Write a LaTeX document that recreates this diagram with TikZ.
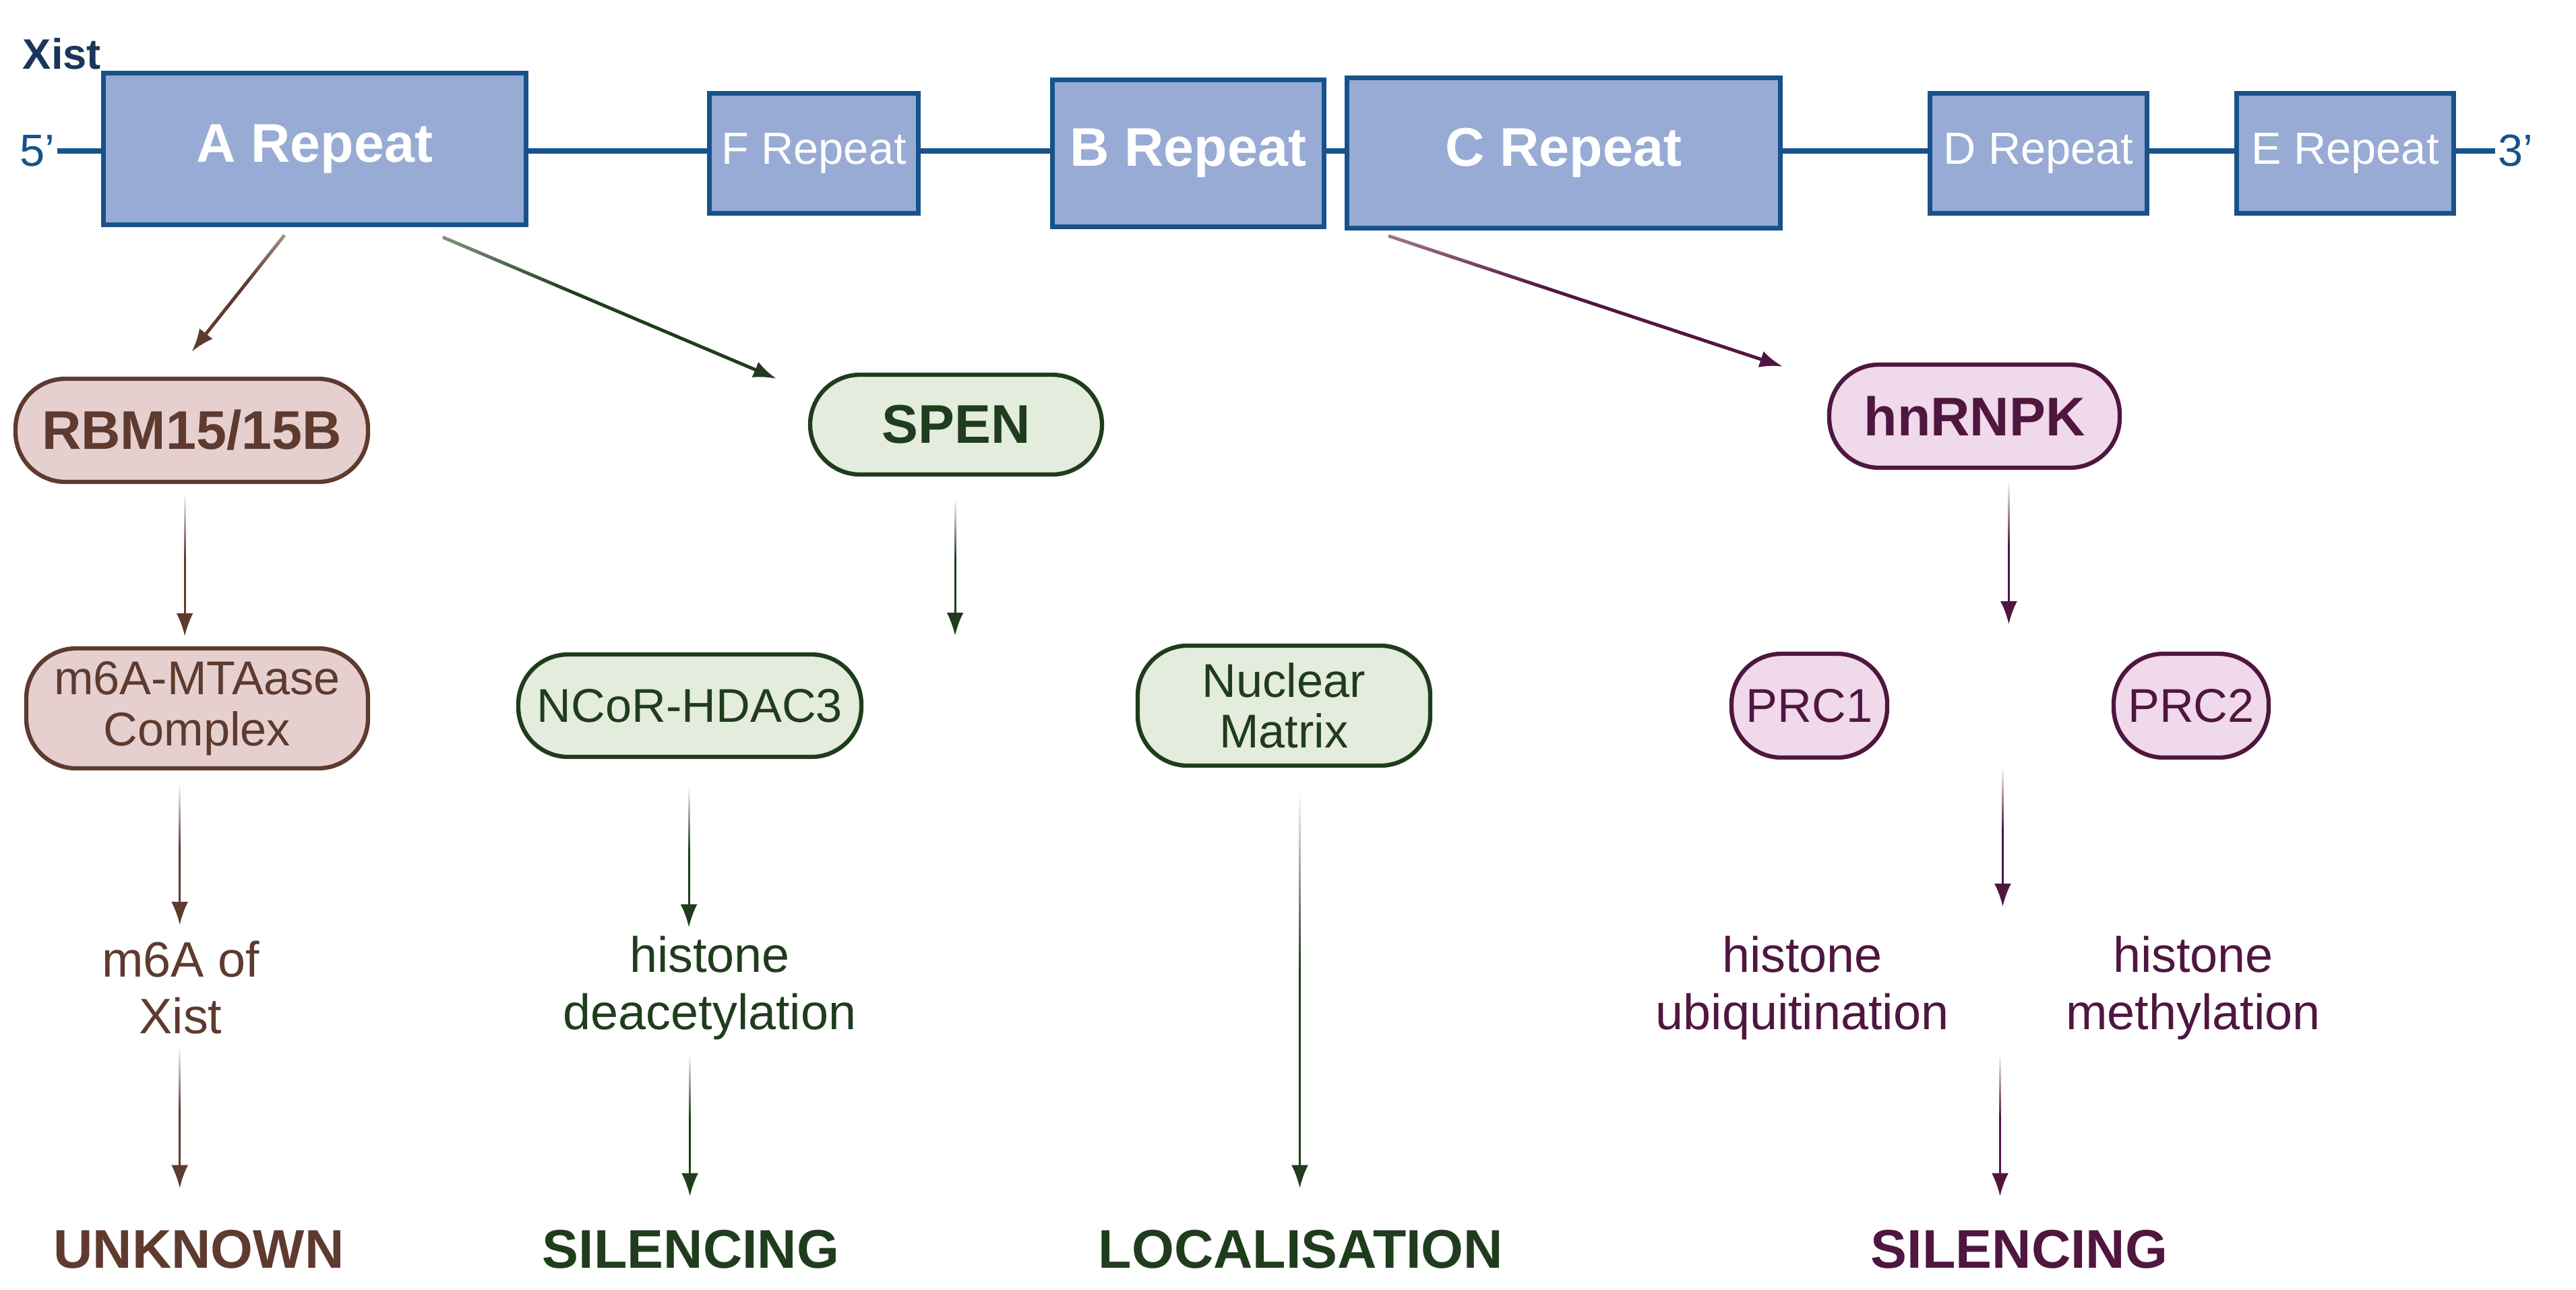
\documentclass[tikz,border=0pt]{standalone}
\usepackage{fontspec}
\setmainfont{Liberation Sans}
\usepackage{tikz}
\usetikzlibrary{
    arrows.meta,
    fadings
}

\definecolor{xnavy}{HTML}{1B365D}
\definecolor{rline}{HTML}{17528B}
\definecolor{rfill}{HTML}{97ABD4}
\definecolor{brn}{HTML}{5E3A2F}
\definecolor{brnfill}{HTML}{E6D0CF}
\definecolor{grn}{HTML}{1F3D1C}
\definecolor{grnfill}{HTML}{E4ECDD}
\definecolor{prp}{HTML}{4F1640}
\definecolor{prpfill}{HTML}{F0D9EA}

\pgfdeclareverticalshading{topfadeshade}{100bp}{color(0bp)=(white); color(55bp)=(white); color(100bp)=(black)}
\pgfdeclarefading{topfade}{\pgfuseshading{topfadeshade}}

\begin{document}
\begin{tikzpicture}[
    rep/.style={draw=rline, fill=rfill, line width=2pt, text=white, inner sep=0pt},
    bigrep/.style={rep, font=\fontsize{23}{27}\selectfont\bfseries},
    smallrep/.style={rep, font=\fontsize{19}{23}\selectfont},
    pill/.style={rounded corners=0.74cm, line width=1.8pt, inner sep=0pt, align=center},
    bpill/.style={pill, font=\fontsize{23}{27}\selectfont\bfseries},
    npill/.style={pill, font=\fontsize{20}{21.5}\selectfont},
    brnbox/.style={draw=brn, fill=brnfill, text=brn},
    grnbox/.style={draw=grn, fill=grnfill, text=grn},
    prpbox/.style={draw=prp, fill=prpfill, text=prp},
    effect/.style={font=\fontsize{21}{24}\selectfont, align=center, inner sep=0pt},
    outcome/.style={font=\fontsize{23}{27}\selectfont\bfseries, inner sep=0pt},
    arr/.style={-{Latex[length=0.34cm,width=0.25cm]}, line width=0.9pt},
    darr/.style={arr, line width=1.4pt, path fading=topfade},
    vfade/.style 2 args={path fading=topfade, fit fading=false,
        fading transform={yshift=#1, yscale=#2, xscale=30}}
]
\useasboundingbox (0,0) rectangle (38.22,-19.14);

% Xist backbone
\node[font=\fontsize{18}{20}\selectfont\bfseries, text=xnavy, inner sep=0pt] (xist) at (0.92,-0.80) {Xist};
\node[font=\fontsize{19}{21}\selectfont, text=rline, inner sep=1pt] (five) at (0.55,-2.24) {5'};
\node[font=\fontsize{19}{21}\selectfont, text=rline, inner sep=1pt] (three) at (37.32,-2.24) {3'};
\draw[rline, line width=2.3pt] (five.east) -- (three.west);

\node[bigrep, minimum width=6.27cm, minimum height=2.25cm] (arep) at (4.67,-2.21) {A Repeat};
\node[smallrep, minimum width=3.10cm, minimum height=1.78cm] (frep) at (12.075,-2.275) {F Repeat};
\node[bigrep, minimum width=4.03cm, minimum height=2.18cm] (brep) at (17.63,-2.275) {B Repeat};
\node[bigrep, minimum width=6.43cm, minimum height=2.23cm] (crep) at (23.20,-2.27) {C Repeat};
\node[smallrep, minimum width=3.22cm, minimum height=1.78cm] (drep) at (30.245,-2.275) {D Repeat};
\node[smallrep, minimum width=3.22cm, minimum height=1.78cm] (erep) at (34.795,-2.275) {E Repeat};

% binding partners
\node[bpill, brnbox, minimum width=5.23cm, minimum height=1.53cm] (rbm) at (2.845,-6.385) {RBM15/15B};
\node[bpill, grnbox, minimum width=4.33cm, minimum height=1.48cm] (spen) at (14.185,-6.30) {SPEN};
\node[bpill, prpbox, minimum width=4.31cm, minimum height=1.53cm] (hnrnpk) at (29.295,-6.175) {hnRNPK};

\node[npill, brnbox, minimum width=5.07cm, minimum height=1.78cm] (mta) at (2.925,-10.51) {m6A-MTAase\\Complex};
\node[npill, grnbox, minimum width=5.09cm, minimum height=1.52cm] (ncor) at (10.235,-10.47) {NCoR-HDAC3};
\node[npill, grnbox, minimum width=4.34cm, minimum height=1.78cm] (nm) at (19.05,-10.47) {Nuclear\\Matrix};
\node[npill, prpbox, minimum width=2.31cm, minimum height=1.54cm] (prc1) at (26.845,-10.47) {PRC1};
\node[npill, prpbox, minimum width=2.30cm, minimum height=1.54cm] (prc2) at (32.51,-10.47) {PRC2};

% effects
\node[effect, text=brn] (m6a) at (2.68,-14.65) {m6A of\\Xist};
\node[effect, text=grn] (deac) at (10.53,-14.66) {histone\\deacetylation};
\node[effect, text=prp] (ubiq) at (26.74,-14.66) {histone\\ubiquitination};
\node[effect, text=prp] (meth) at (32.54,-14.66) {histone\\methylation};

\node[outcome, text=brn] (unk) at (2.95,-18.54) {UNKNOWN};
\node[outcome, text=grn] (sil1) at (10.25,-18.54) {SILENCING};
\node[outcome, text=grn] (loc) at (19.30,-18.54) {LOCALISATION};
\node[outcome, text=prp] (sil2) at (29.96,-18.54) {SILENCING};

% repeat -> partner
\draw[darr, brn] ([xshift=-0.45cm,yshift=-0.12cm]arep.south) -- ([yshift=0.37cm]rbm.north);
\draw[darr, grn] ([xshift=1.9cm,yshift=-0.15cm]arep.south) -- ([xshift=-0.47cm,yshift=-0.09cm]spen.north west);
\draw[darr, prp] ([xshift=-2.6cm,yshift=-0.08cm]crep.south) -- ([xshift=-0.66cm,yshift=-0.06cm]hnrnpk.north west);

% brown column
\draw[arr, brn, vfade={-8.37cm}{0.607}, shorten <=0.12cm, shorten >=0.15cm] ([xshift=-0.09cm]rbm.south) -- ([xshift=-0.09cm]rbm.south |- mta.north);
\draw[arr, brn, vfade={-12.685cm}{0.604}, shorten <=0.17cm, shorten >=0.23cm] (m6a.north |- mta.south) -- (m6a.north);
\draw[arr, brn, vfade={-16.575cm}{0.598}, shorten <=0.20cm, shorten >=0.62cm] (m6a.south) -- (m6a.south |- unk.north);

% green columns
\coordinate (spenend) at (14.185,-9.43);
\draw[arr, grn, vfade={-8.41cm}{0.578}, shorten <=0.29cm] (spen.south) -- (spen.south |- spenend);
\draw[arr, grn, vfade={-12.73cm}{0.60}, shorten <=0.38cm, shorten >=0.13cm] (ncor.south) -- (ncor.south |- deac.north);
\draw[arr, grn, vfade={-16.685cm}{0.604}, shorten <=0.22cm, shorten >=0.50cm] (deac.south -| sil1.north) -- (sil1.north);
\draw[arr, grn, vfade={-14.675cm}{1.675}, shorten <=0.30cm, shorten >=0.62cm] (nm.south -| loc.north) -- (loc.north);

% purple column
\coordinate (hnin) at (29.82,-9.26);
\coordinate (prcout) at (29.73,-11.36);
\coordinate (histin) at (29.73,-13.45);
\coordinate (histout) at (29.69,-15.63);
\draw[arr, prp, vfade={-8.195cm}{0.604}, shorten <=0.13cm] (hnrnpk.south -| hnin) -- (hnin);
\draw[arr, prp, vfade={-12.405cm}{0.592}] (prcout) -- (histin);
\draw[arr, prp, vfade={-16.69cm}{0.60}, shorten >=0.50cm] (histout) -- (histout |- sil2.north);
\end{tikzpicture}
\end{document}
